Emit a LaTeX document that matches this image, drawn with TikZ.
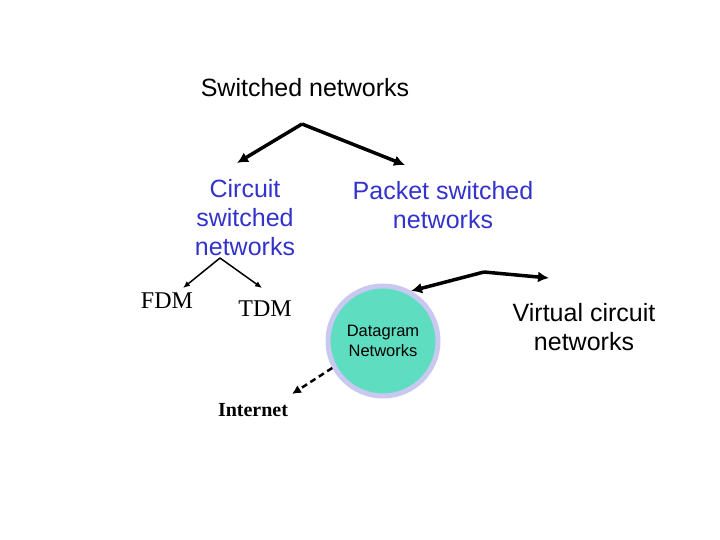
\documentclass[tikz,border=0pt]{standalone}
\usepackage{fontspec}
\usetikzlibrary{arrows.meta}
\setmainfont{Liberation Serif}
\newfontfamily\arial{Liberation Sans}
\begin{document}
\begin{tikzpicture}[x=1pt,y=-1pt,
  big/.style={font=\arial\fontsize{25}{29}\selectfont,align=center,inner sep=0},
  blue/.style={big,text={rgb,255:red,51;green,51;blue,204}},
  thick arrow/.style={line width=3.5pt,-{Latex[length=11pt,width=11pt]}},
  thin arrow/.style={line width=1.5pt,-{Latex[length=7pt,width=6pt]}}]
\useasboundingbox (0,0) rectangle (720,540);
\node[big] (sw) at (305,88) {Switched networks};
\coordinate (a1) at (302,124);
\draw[thick arrow] (a1) -- (237,163) coordinate (c1);
\draw[thick arrow] (a1) -- (405,165) coordinate (c2);
\node[blue] (csn) at (245,218) {Circuit\\switched\\networks};
\node[blue] (psn) at (443,205) {Packet switched\\networks};
\coordinate (a2) at (220,258);
\node[font=\fontsize{24}{26}\selectfont] (fdm) at (167,301) {FDM};
\node[font=\fontsize{24}{26}\selectfont] (tdm) at (265,309) {TDM};
\draw[thin arrow] (a2) -- (183,288);
\draw[thin arrow] (a2) -- (262,288);
\node[circle,fill={rgb,255:red,94;green,221;blue,193},draw={rgb,255:red,200;green,200;blue,240},line width=5pt,minimum size=110pt,inner sep=0,font=\arial\fontsize{16.5}{20}\selectfont,align=center] (dg) at (383,341) {Datagram\\Networks};
\coordinate (a3) at (484,272);
\draw[thick arrow] (a3) -- (411,291);
\draw[thick arrow] (a3) -- (549,278);
\node[big] (vc) at (584,327) {Virtual circuit\\networks};
\node[font=\bfseries\fontsize{20}{22}\selectfont] (inet) at (253,410) {Internet};
\draw[line width=2.5pt,dash pattern=on 6pt off 4pt,-{Latex[length=9pt,width=9pt]}] (dg.-152) -- (292,394);
\end{tikzpicture}
\end{document}
